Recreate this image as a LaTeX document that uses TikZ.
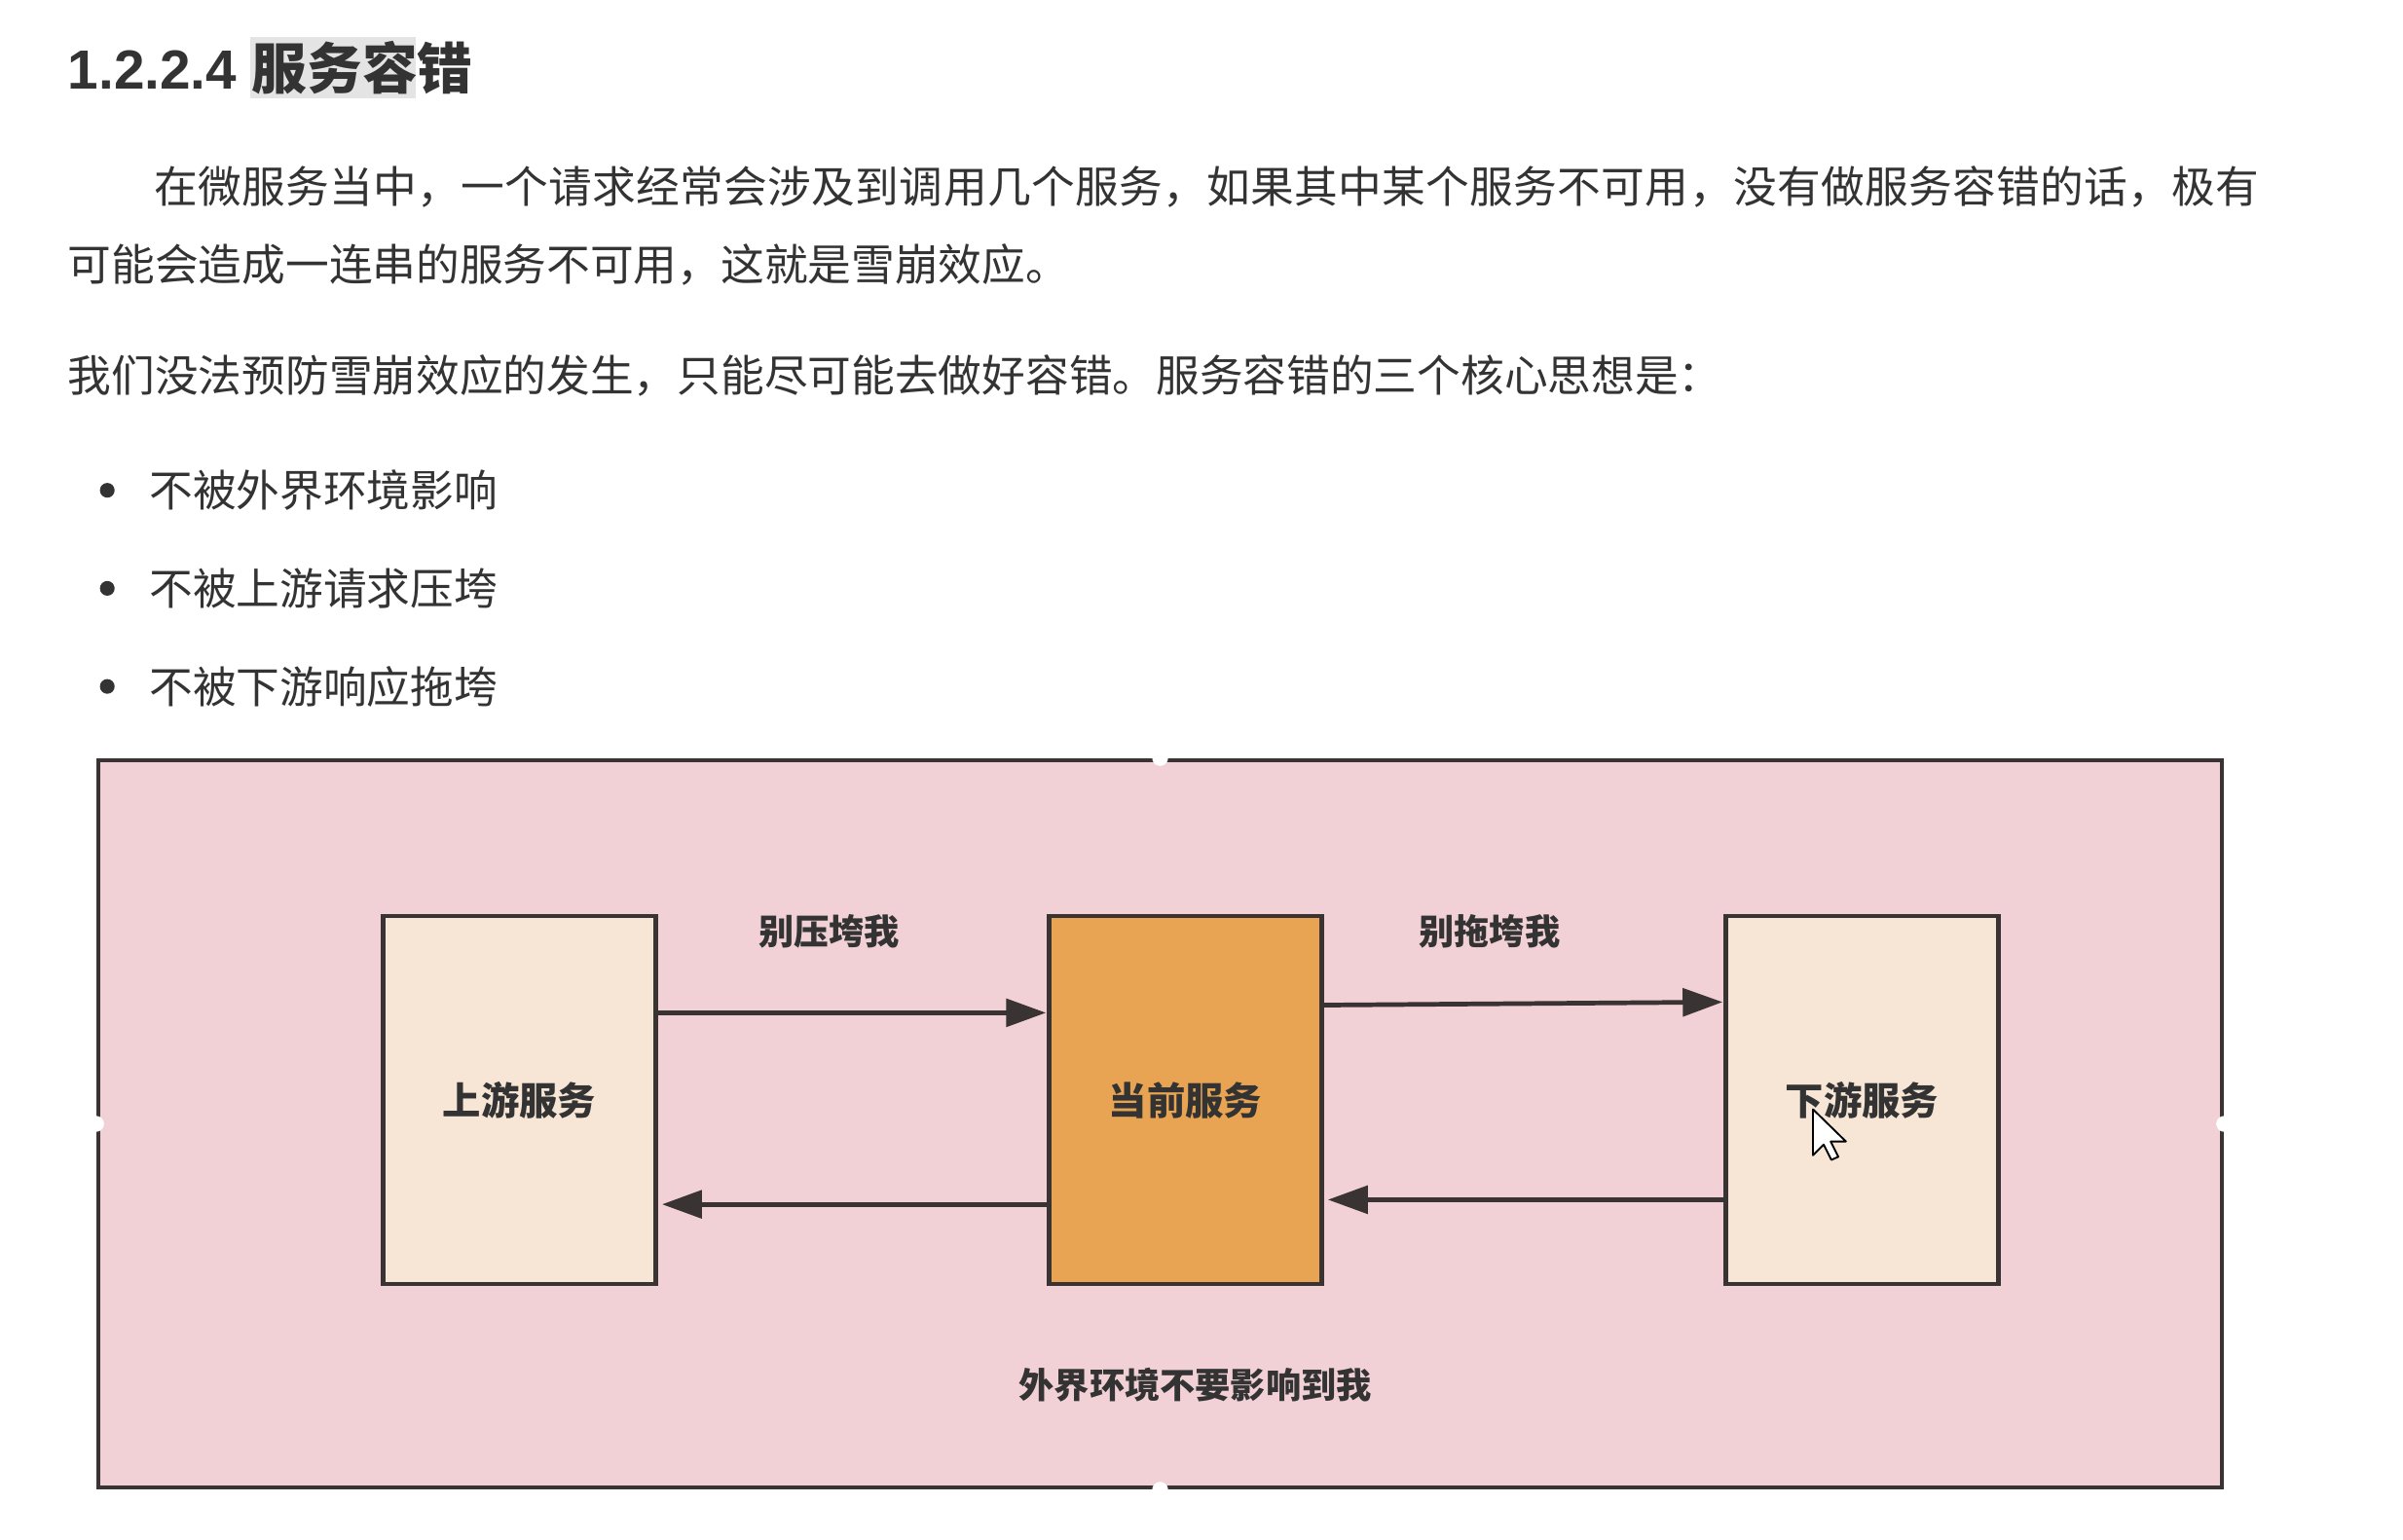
\documentclass[tikz,border=0pt]{standalone}
\usepackage{fontspec}
\setmainfont{Noto Sans CJK SC}
\newfontfamily\numfont{Liberation Sans}
\usetikzlibrary{arrows.meta}
\definecolor{pinkbg}{HTML}{F1D0D6}
\definecolor{lightbox}{HTML}{F7E6D5}
\definecolor{orangebox}{HTML}{E8A452}
\definecolor{edge}{HTML}{3A3333}
\definecolor{txt}{HTML}{333333}
\definecolor{hl}{HTML}{E4E4E4}
\begin{document}
\begin{tikzpicture}[x=0.5pt,y=-0.5pt,
 svc/.style={draw=edge,line width=1.4pt,minimum width=89pt,minimum height=120pt,inner sep=0pt,outer sep=0pt,font=\fontsize{12.5}{14}\selectfont\bfseries,text=txt},
 flow/.style={draw=edge,line width=1.5pt,-{Triangle[length=13pt,width=9pt]}},
 body/.style={anchor=west,inner sep=0pt,font=\fontsize{14.2}{16}\selectfont,text=txt},
 lbl/.style={inner sep=0pt,font=\fontsize{11.5}{13}\selectfont\bfseries,text=txt},
 bullet/.style={circle,fill=txt,inner sep=0pt,minimum size=4.8pt}]
\useasboundingbox[fill=white] (0,0) rectangle (1568,1005);
% heading
\fill[hl] (163,24) rectangle (271,64);
\node[body,font=\fontsize{18}{20}\selectfont\bfseries] (title) at (44,44) {{\numfont 1.2.2.4 }服务容错};
% paragraphs
\node[body,font=\fontsize{14.2}{16}\selectfont\addfontfeature{LetterSpace=0.8}] (p1) at (100,122) {在微服务当中，一个请求经常会涉及到调用几个服务，如果其中某个服务不可用，没有做服务容错的话，极有};
\node[body] (p2) at (44,173) {可能会造成一连串的服务不可用，这就是雪崩效应。};
\node[body] (p3) at (44,245) {我们没法预防雪崩效应的发生，只能尽可能去做好容错。服务容错的三个核心思想是：};
% bullets
\node[bullet] (b1) at (70,320) {};
\node[body] (t1) at (97,320) {不被外界环境影响};
\node[bullet] (b2) at (70,384) {};
\node[body] (t2) at (97,384) {不被上游请求压垮};
\node[bullet] (b3) at (70,448) {};
\node[body] (t3) at (97,448) {不被下游响应拖垮};
% diagram
\node[draw=edge,line width=1.3pt,fill=pinkbg,minimum width=693pt,minimum height=237.5pt,inner sep=0pt] (env) at (757,733.5) {};
\foreach \a in {north,south,east,west}{\fill[white] (env.\a) circle (2.6pt);}
\node[svc,fill=lightbox] (up) at (339,718) {上游服务};
\node[svc,fill=orangebox] (cur) at (773.5,718) {当前服务};
\node[svc,fill=lightbox] (down) at (1215,718) {下游服务};
\draw[flow] ([yshift=28.5pt]up.east) -- ([yshift=28.5pt,xshift=-1pt]cur.west);
\draw[flow] ([yshift=-34pt]cur.west) -- ([yshift=-34pt,xshift=2pt]up.east);
\draw[flow] ([yshift=31pt]cur.east) -- ([yshift=32pt,xshift=-1pt]down.west);
\draw[flow] ([yshift=-32.5pt]down.west) -- ([yshift=-32.5pt,xshift=2pt]cur.east);
\node[lbl] (l1) at (541,608) {别压垮我};
\node[lbl] (l2) at (972,608) {别拖垮我};
\node[lbl] (l3) at (780,904) {外界环境不要影响到我};
% mouse cursor
\draw[fill=white,line width=0.6pt,line join=round] (1183,724) -- ++(0,30) -- ++(7,-7) -- ++(5,10) -- ++(4.5,-2) -- ++(-5,-10) -- ++(10,0) -- cycle;
\end{tikzpicture}
\end{document}
